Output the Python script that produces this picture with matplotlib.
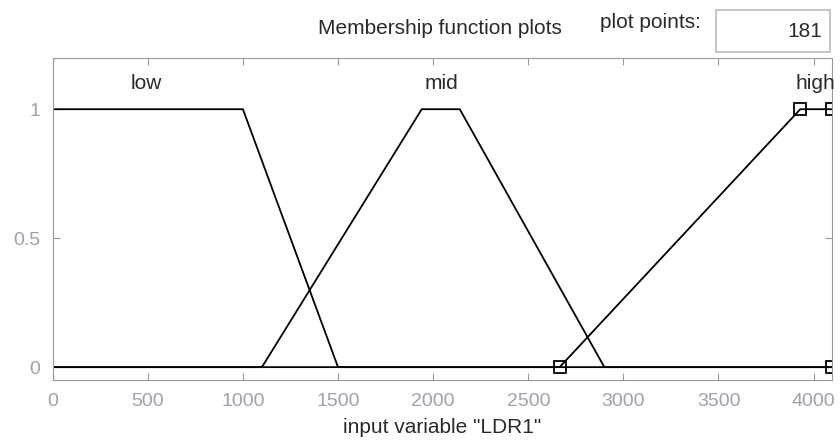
import matplotlib.pyplot as plt

# membership functions (trapmf params) of input variable LDR1
x_range = [0, 4095]
mf_names = ['low', 'mid', 'high']
mf_params = [
    [0, 0, 1000, 1500],
    [1100, 1940, 2140, 2900],
    [2665, 3930, 4095, 4095],
]
label_x = [490, 2045, 4010]
label_y = 1.1
plot_points = 181

xticks = [0, 500, 1000, 1500, 2000, 2500, 3000, 3500, 4000]
yticks = [0, 0.5, 1]

plt.rcParams['font.family'] = ['Liberation Sans', 'DejaVu Sans']

fig = plt.figure(figsize=(8.4, 4.45), dpi=100)
fig.patch.set_facecolor('white')
ax = fig.add_axes([0.0627, 0.146, 0.9274, 0.7245])

for name, p, lx in zip(mf_names, mf_params, label_x):
    a, b, c, d = p
    if a == x_range[0]:
        xs = [x_range[0], c, d, x_range[1]]
        ys = [1, 1, 0, 0]
    elif d >= x_range[1]:
        xs = [x_range[0], a, b, c]
        ys = [0, 0, 1, 1]
    else:
        xs = [x_range[0], a, b, c, d, x_range[1]]
        ys = [0, 0, 1, 1, 0, 0]
    ax.plot(xs, ys, color='black', lw=1.3, solid_joinstyle='miter')
    ax.text(lx, label_y, name, ha='center', va='center', fontsize=15,
            color='#2a2a2a', clip_on=False)

# selected MF (high) shown with square markers at its vertices
hp = mf_params[2]
ax.plot([hp[0], hp[1], hp[2], hp[3]], [0, 1, 1, 0], ls='none', marker='s', ms=8,
        mfc='none', mec='black', mew=1.3, clip_on=True)

ax.set_xlim(x_range)
ax.set_ylim(-0.05, 1.2)
ax.set_xticks(xticks)
ax.set_yticks(yticks)
ax.set_yticklabels(['0', '0.5', '1'])
ax.tick_params(direction='in', length=5, color='#999999', labelcolor='#a0a0aa',
               labelsize=14, top=True, right=True, pad=9)
for s in ax.spines.values():
    s.set_color('#999999')
ax.set_xlabel('input variable "LDR1"', fontsize=15, color='#2a2a2a', labelpad=6)

fig.text(0.524, 0.935, 'Membership function plots', ha='center', va='center',
         fontsize=15, color='#2a2a2a')
fig.text(0.774, 0.949, 'plot points:', ha='center', va='center', fontsize=15,
         color='#2a2a2a')
box = plt.Rectangle((0.8524, 0.8831), 0.1357, 0.0944, transform=fig.transFigure,
                    fill=False, edgecolor='#bbbbbb', lw=1.2)
fig.add_artist(box)
fig.text(0.9786, 0.930, str(plot_points), ha='right', va='center', fontsize=15,
         color='#2a2a2a')

fig.savefig('out.png', dpi=100)
